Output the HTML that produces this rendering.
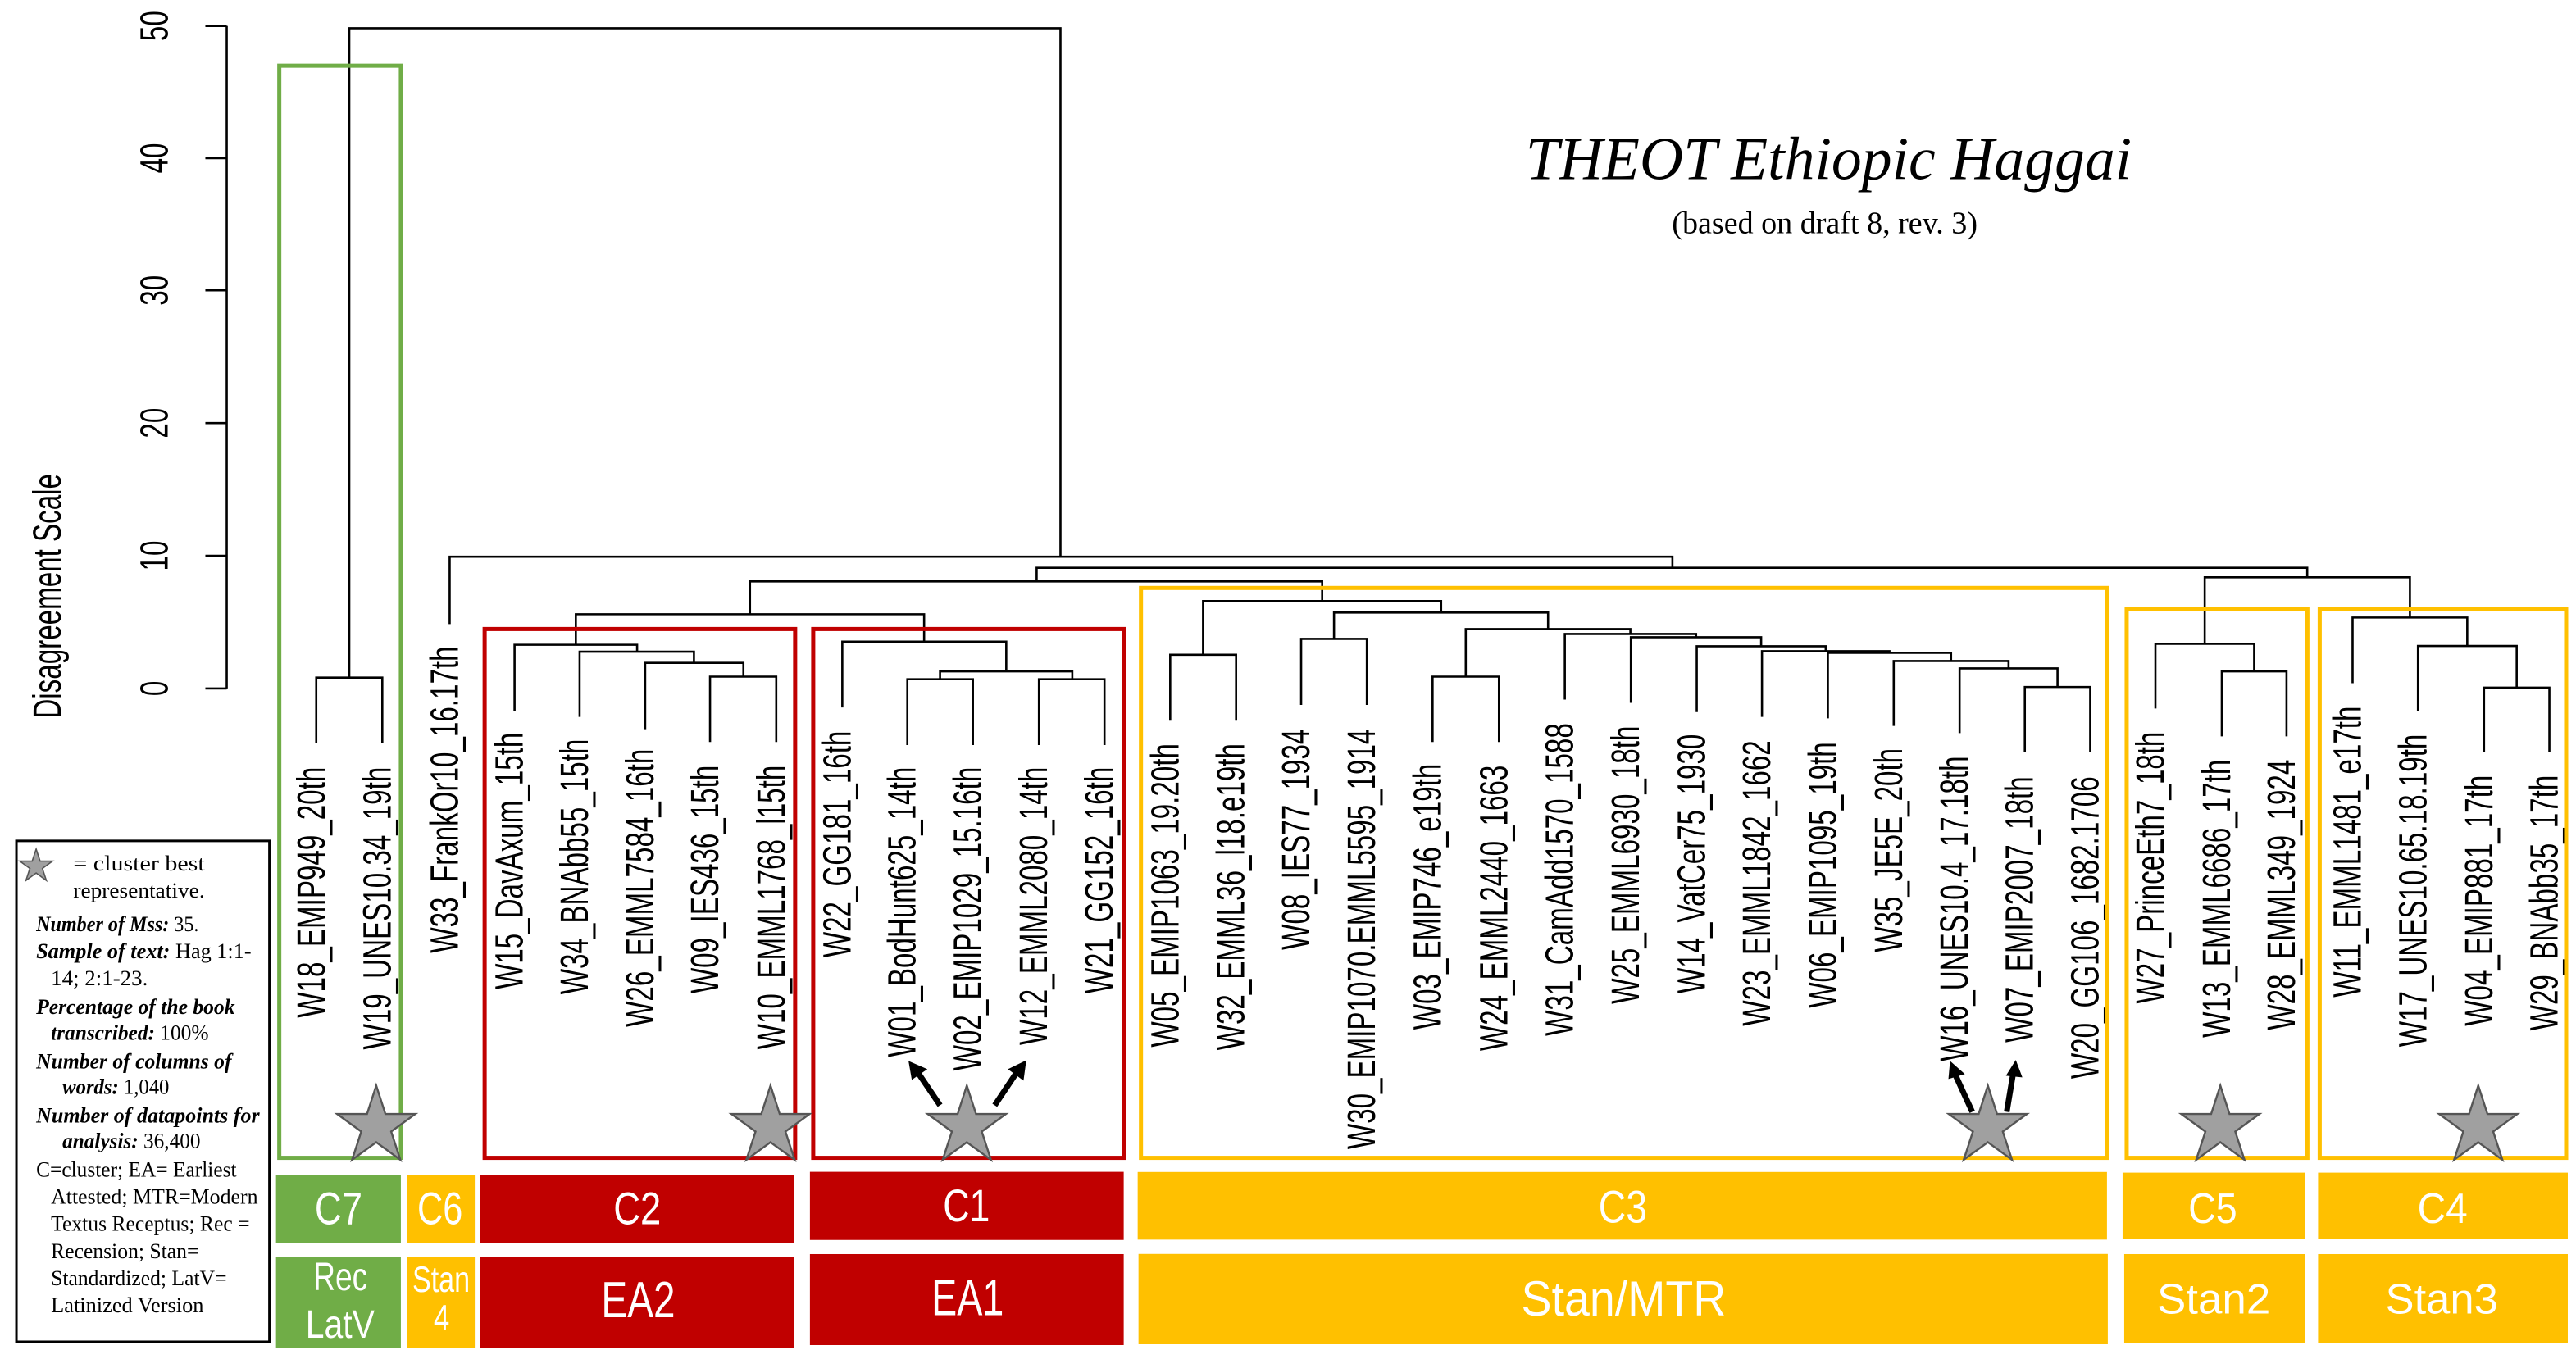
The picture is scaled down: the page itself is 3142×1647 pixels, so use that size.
<!DOCTYPE html>
<html><head><meta charset="utf-8"><style>
html,body{margin:0;padding:0;background:#fff;}
svg{display:block;}
.lf{font-family:"Liberation Sans",Arial,sans-serif;font-size:24px;fill:#000;}
.bx{font-family:"Liberation Sans",sans-serif;fill:#fff;}
.lg{font-family:"Liberation Serif",serif;font-size:13px;fill:#000;}
.it{font-style:italic;font-weight:bold;}
</style></head><body>
<svg xmlns="http://www.w3.org/2000/svg" width="3142" height="1647" viewBox="0 0 1568 822" preserveAspectRatio="none">
<rect width="1568" height="822" fill="#fff"/>
<!-- axis -->
<g stroke="#000" stroke-width="1.3" fill="none">
<path d="M138 15.8 V419.2 M125 15.8 H138 M125 96.3 H138 M125 176.8 H138 M125 257.6 H138 M125 338.4 H138 M125 419.2 H138"/>
</g>
<g class="lf">
<text transform="translate(102,15.8) rotate(-90) scale(0.69,1)" text-anchor="middle">50</text>
<text transform="translate(102,96.3) rotate(-90) scale(0.69,1)" text-anchor="middle">40</text>
<text transform="translate(102,176.8) rotate(-90) scale(0.69,1)" text-anchor="middle">30</text>
<text transform="translate(102,257.6) rotate(-90) scale(0.69,1)" text-anchor="middle">20</text>
<text transform="translate(102,338.4) rotate(-90) scale(0.69,1)" text-anchor="middle">10</text>
<text transform="translate(102,419.2) rotate(-90) scale(0.69,1)" text-anchor="middle">0</text>
<text transform="translate(37,363) rotate(-90) scale(0.69,1)" text-anchor="middle">Disagreement Scale</text>
</g>
<!-- title -->
<text x="928.6" y="109" font-family="Liberation Serif,serif" font-style="italic" font-size="37" textLength="369" lengthAdjust="spacingAndGlyphs">THEOT Ethiopic Haggai</text>
<text x="1017.7" y="142" font-family="Liberation Serif,serif" font-size="19" textLength="186" lengthAdjust="spacingAndGlyphs">(based on draft 8, rev. 3)</text>
<!-- tree -->
<g stroke="#000" stroke-width="1.3" fill="none">
<path d="M192.5 452.7 V412.6 H232.7 V452.7"/>
<path d="M212.6 412.6 V17.2 H645.5 V339"/>
<path d="M273.7 380 V339 H1018 V345.7"/>
<path d="M631 354 V345.7 H1404.4 V351.5"/>
<path d="M456.5 374 V354 H804.8 V366"/>
<path d="M350.5 392.6 V374 H562.5 V390.7"/>
<path d="M313.2 432.7 V392.6 H387.8 V396.8"/>
<path d="M352.8 436.5 V396.8 H422.4 V403.6"/>
<path d="M392.7 444 V403.6 H452.5 V412"/>
<path d="M432.2 451.8 V412 H472.5 V451.8"/>
<path d="M512.7 430.8 V390.7 H612.5 V408.8"/>
<path d="M572.2 413.6 V408.8 H652.7 V413.6"/>
<path d="M552.3 453.7 V413.6 H592.2 V453.7"/>
<path d="M632.4 453.7 V413.6 H672.3 V453.7"/>
<path d="M732.3 398.7 V366 H877.2 V373"/>
<path d="M712.3 438.8 V398.7 H752.4 V438.8"/>
<path d="M812 389 V373 H942.3 V383"/>
<path d="M792 429.2 V389 H832 V429.2"/>
<path d="M892.2 412 V383 H992.4 V386"/>
<path d="M872 451.8 V412 H912.4 V451.8"/>
<path d="M952.5 426 V386 H1032.4 V388"/>
<path d="M992.7 428 V388 H1072 V393.5"/>
<path d="M1032.8 433.6 V393.5 H1111.3 V396.5"/>
<path d="M1072.5 436.5 V396.5 H1150.1 V397.5"/>
<path d="M1112.6 437.4 V397.5 H1187.6 V402.5"/>
<path d="M1152.7 442 V402.5 H1222.6 V407"/>
<path d="M1192.8 446.4 V407 H1252.4 V418.3"/>
<path d="M1232.5 457.9 V418.3 H1272.3 V457.9"/>
<path d="M1342 392 V351.5 H1466.9 V376"/>
<path d="M1312 431.4 V392 H1372.1 V408.8"/>
<path d="M1352.4 448.4 V408.8 H1391.8 V448.4"/>
<path d="M1432 416 V376 H1501.8 V393.3"/>
<path d="M1471.8 433 V393.3 H1531.9 V418.7"/>
<path d="M1512 458 V418.7 H1551.8 V458"/>
</g>
<!-- leaf labels -->
<g class="lf" text-anchor="end">
<text transform="translate(197.5,467) rotate(-90) scale(0.69,1)">W18_EMIP949_20th</text>
<text transform="translate(237.7,467) rotate(-90) scale(0.69,1)">W19_UNES10.34_19th</text>
<text transform="translate(278.7,393.5) rotate(-90) scale(0.69,1)">W33_FrankOr10_16.17th</text>
<text transform="translate(318.2,446) rotate(-90) scale(0.69,1)">W15_DavAxum_15th</text>
<text transform="translate(357.8,450) rotate(-90) scale(0.69,1)">W34_BNAbb55_15th</text>
<text transform="translate(397.7,456) rotate(-90) scale(0.69,1)">W26_EMML7584_16th</text>
<text transform="translate(437.2,466) rotate(-90) scale(0.69,1)">W09_IES436_15th</text>
<text transform="translate(477.5,466) rotate(-90) scale(0.69,1)">W10_EMML1768_l15th</text>
<text transform="translate(517.7,445) rotate(-90) scale(0.69,1)">W22_GG181_16th</text>
<text transform="translate(557.3,467) rotate(-90) scale(0.69,1)">W01_BodHunt625_14th</text>
<text transform="translate(597.2,467) rotate(-90) scale(0.69,1)">W02_EMIP1029_15.16th</text>
<text transform="translate(637.4,467) rotate(-90) scale(0.69,1)">W12_EMML2080_14th</text>
<text transform="translate(677.3,467) rotate(-90) scale(0.69,1)">W21_GG152_16th</text>
<text transform="translate(717.3,452.7) rotate(-90) scale(0.69,1)">W05_EMIP1063_19.20th</text>
<text transform="translate(757.4,452.7) rotate(-90) scale(0.69,1)">W32_EMML36_l18.e19th</text>
<text transform="translate(797,444) rotate(-90) scale(0.69,1)">W08_IES77_1934</text>
<text transform="translate(837,444) rotate(-90) scale(0.69,1)">W30_EMIP1070.EMML5595_1914</text>
<text transform="translate(877,465) rotate(-90) scale(0.69,1)">W03_EMIP746_e19th</text>
<text transform="translate(917.4,466) rotate(-90) scale(0.69,1)">W24_EMML2440_1663</text>
<text transform="translate(957.5,440.3) rotate(-90) scale(0.69,1)">W31_CamAdd1570_1588</text>
<text transform="translate(997.7,442) rotate(-90) scale(0.69,1)">W25_EMML6930_18th</text>
<text transform="translate(1037.8,447) rotate(-90) scale(0.69,1)">W14_VatCer75_1930</text>
<text transform="translate(1077.5,450.8) rotate(-90) scale(0.69,1)">W23_EMML1842_1662</text>
<text transform="translate(1117.6,451.8) rotate(-90) scale(0.69,1)">W06_EMIP1095_19th</text>
<text transform="translate(1157.7,455.6) rotate(-90) scale(0.69,1)">W35_JE5E_20th</text>
<text transform="translate(1197.8,460.4) rotate(-90) scale(0.69,1)">W16_UNES10.4_17.18th</text>
<text transform="translate(1237.5,472.8) rotate(-90) scale(0.69,1)">W07_EMIP2007_18th</text>
<text transform="translate(1277.3,472.8) rotate(-90) scale(0.69,1)">W20_GG106_1682.1706</text>
<text transform="translate(1317,445.5) rotate(-90) scale(0.69,1)">W27_PrinceEth7_18th</text>
<text transform="translate(1357.4,462.5) rotate(-90) scale(0.69,1)">W13_EMML6686_17th</text>
<text transform="translate(1396.8,462.5) rotate(-90) scale(0.69,1)">W28_EMML349_1924</text>
<text transform="translate(1437,430) rotate(-90) scale(0.69,1)">W11_EMML1481_e17th</text>
<text transform="translate(1476.8,447) rotate(-90) scale(0.69,1)">W17_UNES10.65.18.19th</text>
<text transform="translate(1517,472) rotate(-90) scale(0.69,1)">W04_EMIP881_17th</text>
<text transform="translate(1556.8,472) rotate(-90) scale(0.69,1)">W29_BNAbb35_17th</text>
</g>
<!-- cluster boxes -->
<g fill="none" stroke-width="2.5">
<rect x="170" y="40" width="74" height="665" stroke="#70AD47"/>
<rect x="295" y="383" width="189" height="322" stroke="#C00000"/>
<rect x="495" y="383" width="189" height="322" stroke="#C00000"/>
<rect x="694.5" y="358" width="588" height="347" stroke="#FFC000"/>
<rect x="1294.5" y="371" width="110" height="334" stroke="#FFC000"/>
<rect x="1412" y="371" width="150" height="334" stroke="#FFC000"/>
</g>
<!-- arrows -->
<g stroke="#000" stroke-width="3.5" fill="none">
<path d="M572.2 673 L558 652"/>
<path d="M605.5 673 L619.5 652"/>
<path d="M1200.5 677 L1190 654"/>
<path d="M1221.5 677 L1225.5 653"/>
</g>
<g fill="#000">
<polygon points="553,646 564.5,651 555,657.5"/>
<polygon points="624.7,645.6 623,658 613.5,651"/>
<polygon points="1187,646 1196,654 1186,657"/>
<polygon points="1227,645.4 1231,656 1221,655"/>
</g>
<!-- stars -->
<g fill="#A0A0A0" stroke="#555" stroke-width="1.2">
<polygon points="229,661 234.6,678.3 252.8,678.3 238.1,689 243.7,706.2 229,695.5 214.3,706.2 219.9,689 205.2,678.3 223.4,678.3"/>
<polygon points="469,661 474.6,678.3 492.8,678.3 478.1,689 483.7,706.2 469,695.5 454.3,706.2 459.9,689 445.2,678.3 463.4,678.3"/>
<polygon points="588.5,661 594.1,678.3 612.3,678.3 597.6,689 603.2,706.2 588.5,695.5 573.8,706.2 579.4,689 564.7,678.3 582.9,678.3"/>
<polygon points="1210,661 1215.6,678.3 1233.8,678.3 1219.1,689 1224.7,706.2 1210,695.5 1195.3,706.2 1200.9,689 1186.2,678.3 1204.4,678.3"/>
<polygon points="1351.5,661 1357.1,678.3 1375.3,678.3 1360.6,689 1366.2,706.2 1351.5,695.5 1336.8,706.2 1342.4,689 1327.7,678.3 1345.9,678.3"/>
<polygon points="1508.5,661 1514.1,678.3 1532.3,678.3 1517.6,689 1523.2,706.2 1508.5,695.5 1493.8,706.2 1499.4,689 1484.7,678.3 1502.9,678.3"/>
</g>
<!-- label rectangles -->
<rect x="168" y="715.5" width="76" height="41.5" fill="#70AD47"/>
<rect x="248" y="715.5" width="41" height="41.5" fill="#FFC000"/>
<rect x="292" y="715.5" width="191.5" height="41.5" fill="#C00000"/>
<rect x="493" y="713.5" width="191" height="41.5" fill="#C00000"/>
<rect x="692.5" y="713.6" width="590" height="41.2" fill="#FFC000"/>
<rect x="1292" y="714" width="111" height="40.6" fill="#FFC000"/>
<rect x="1411" y="714" width="152" height="40.6" fill="#FFC000"/>
<rect x="168" y="765.6" width="76" height="55" fill="#70AD47"/>
<rect x="248" y="765.6" width="41" height="55" fill="#FFC000"/>
<rect x="292" y="765.6" width="191.5" height="55" fill="#C00000"/>
<rect x="493" y="763.6" width="191" height="55.4" fill="#C00000"/>
<rect x="693" y="763.5" width="590" height="55" fill="#FFC000"/>
<rect x="1293" y="763.6" width="110" height="54.4" fill="#FFC000"/>
<rect x="1411" y="763.6" width="152" height="54.4" fill="#FFC000"/>
<g class="bx">
<text x="191.6" y="745.4" font-size="28" textLength="29" lengthAdjust="spacingAndGlyphs">C7</text>
<text x="254" y="745.4" font-size="28" textLength="27.6" lengthAdjust="spacingAndGlyphs">C6</text>
<text x="373.4" y="745.4" font-size="28" textLength="29" lengthAdjust="spacingAndGlyphs">C2</text>
<text x="574" y="743.7" font-size="28" textLength="28.5" lengthAdjust="spacingAndGlyphs">C1</text>
<text x="973" y="744.4" font-size="28" textLength="29.6" lengthAdjust="spacingAndGlyphs">C3</text>
<text x="1332" y="744.7" font-size="26" textLength="29.7" lengthAdjust="spacingAndGlyphs">C5</text>
<text x="1471.5" y="744.7" font-size="26" textLength="30.5" lengthAdjust="spacingAndGlyphs">C4</text>
<text x="190.7" y="785.6" font-size="24" textLength="33" lengthAdjust="spacingAndGlyphs">Rec</text>
<text x="186" y="814.5" font-size="24" textLength="42" lengthAdjust="spacingAndGlyphs">LatV</text>
<text x="251" y="786.6" font-size="22" textLength="35" lengthAdjust="spacingAndGlyphs">Stan</text>
<text x="264" y="810" font-size="22" textLength="9.6" lengthAdjust="spacingAndGlyphs">4</text>
<text x="366" y="802" font-size="31" textLength="45" lengthAdjust="spacingAndGlyphs">EA2</text>
<text x="567" y="800.7" font-size="31" textLength="44" lengthAdjust="spacingAndGlyphs">EA1</text>
<text x="926" y="801" font-size="30" textLength="124.7" lengthAdjust="spacingAndGlyphs">Stan/MTR</text>
<text x="1313" y="799.8" font-size="26" textLength="69" lengthAdjust="spacingAndGlyphs">Stan2</text>
<text x="1452" y="799.8" font-size="26" textLength="68.5" lengthAdjust="spacingAndGlyphs">Stan3</text>
</g>
<!-- legend -->
<rect x="10" y="512" width="154" height="305" fill="#fff" stroke="#000" stroke-width="1.5"/>
<polygon points="22,517 24.4,524.3 32,524.3 25.8,528.8 28.2,536.1 22,531.6 15.8,536.1 18.2,528.8 12,524.3 19.6,524.3" fill="#A0A0A0" stroke="#555" stroke-width="0.8"/>
<g class="lg">
<text x="44.6" y="530" textLength="80" lengthAdjust="spacingAndGlyphs">= cluster best</text>
<text x="44.6" y="546.5" textLength="80" lengthAdjust="spacingAndGlyphs">representative.</text>
<text x="22" y="567" textLength="99" lengthAdjust="spacingAndGlyphs"><tspan class="it">Number of Mss:</tspan> 35.</text>
<text x="22" y="583.5" textLength="131" lengthAdjust="spacingAndGlyphs"><tspan class="it">Sample of text:</tspan> Hag 1:1-</text>
<text x="31" y="600" textLength="59" lengthAdjust="spacingAndGlyphs">14; 2:1-23.</text>
<text x="22" y="617.5" textLength="121" lengthAdjust="spacingAndGlyphs" class="it">Percentage of the book</text>
<text x="31" y="633" textLength="96" lengthAdjust="spacingAndGlyphs"><tspan class="it">transcribed:</tspan> 100%</text>
<text x="22" y="650.5" textLength="119" lengthAdjust="spacingAndGlyphs" class="it">Number of columns of</text>
<text x="38" y="666" textLength="65" lengthAdjust="spacingAndGlyphs"><tspan class="it">words:</tspan> 1,040</text>
<text x="22" y="683.5" textLength="136" lengthAdjust="spacingAndGlyphs" class="it">Number of datapoints for</text>
<text x="38" y="699" textLength="84" lengthAdjust="spacingAndGlyphs"><tspan class="it">analysis:</tspan> 36,400</text>
<text x="22" y="716.5" textLength="122" lengthAdjust="spacingAndGlyphs">C=cluster; EA= Earliest</text>
<text x="31" y="733" textLength="126" lengthAdjust="spacingAndGlyphs">Attested; MTR=Modern</text>
<text x="31" y="749.5" textLength="121" lengthAdjust="spacingAndGlyphs">Textus Receptus; Rec =</text>
<text x="31" y="766" textLength="90" lengthAdjust="spacingAndGlyphs">Recension; Stan=</text>
<text x="31" y="782.5" textLength="107" lengthAdjust="spacingAndGlyphs">Standardized; LatV=</text>
<text x="31" y="799" textLength="93" lengthAdjust="spacingAndGlyphs">Latinized Version</text>
</g>
</svg>
</body></html>
